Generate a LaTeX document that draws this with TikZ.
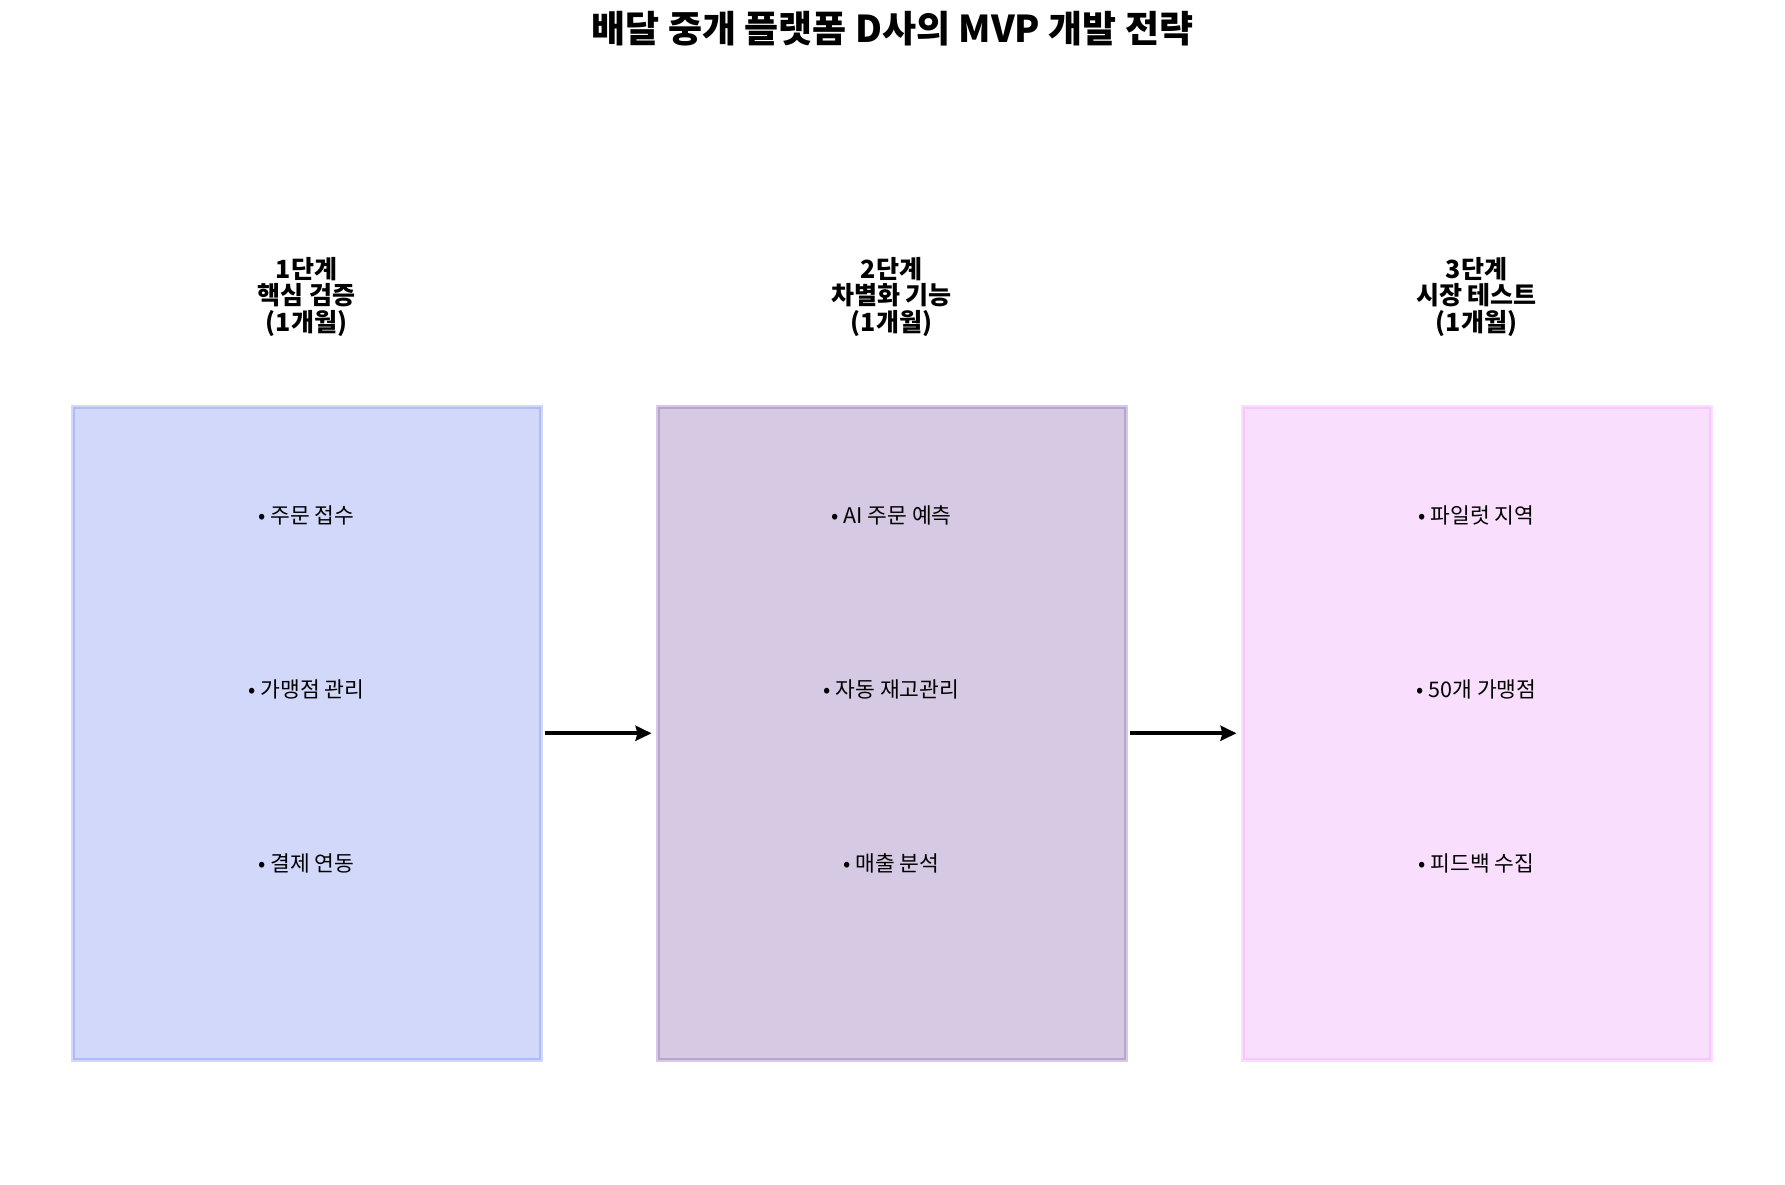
\documentclass[tikz,border=0pt]{standalone}
\usepackage{fontspec}
\setmainfont{Noto Sans CJK KR}
\usetikzlibrary{arrows.meta}
\definecolor{cA}{HTML}{667EEA}
\definecolor{cB}{HTML}{764BA2}
\definecolor{cC}{HTML}{F093FB}
\tikzset{
  stagebox/.style={draw opacity=0.3, fill opacity=0.3, line width=4pt, minimum width=468pt, minimum height=652.5pt, inner sep=0pt},
  stagetitle/.style={align=center, font=\fontsize{25}{26.5}\selectfont\bfseries, inner sep=0pt},
  item/.style={font=\fontsize{21.5}{24}\selectfont, inner sep=0pt},
  flow/.style={line width=3.8pt, -{Stealth[length=16pt,width=15pt,inset=2pt]}},
  maintitle/.style={font=\fontsize{37}{42}\selectfont\bfseries, inner sep=0pt}
}
\begin{document}
\begin{tikzpicture}[x=1pt,y=-1pt]
\useasboundingbox (0,0) rectangle (1785,1184);
\node[maintitle] (title) at (892.5,29) {배달 중개 플랫폼 D사의 MVP 개발 전략};

\node[stagebox, draw=cA, fill=cA] (b1) at (306.5,733.25) {};
\node[stagebox, draw=cB, fill=cB] (b2) at (891.5,733.25) {};
\node[stagebox, draw=cC, fill=cC] (b3) at (1476.5,733.25) {};

\node[stagetitle] (t1) at (306.5,297) {1단계\\핵심 검증\\(1개월)};
\node[stagetitle] (t2) at (891.5,297) {2단계\\차별화 기능\\(1개월)};
\node[stagetitle] (t3) at (1476.5,297) {3단계\\시장 테스트\\(1개월)};

\node[item] (i11) at (306.5,515) {• 주문 접수};
\node[item] (i12) at (306.5,689) {• 가맹점 관리};
\node[item] (i13) at (306.5,863) {• 결제 연동};
\node[item] (i21) at (891.5,515) {• AI 주문 예측};
\node[item] (i22) at (891.5,689) {• 자동 재고관리};
\node[item] (i23) at (891.5,863) {• 매출 분석};
\node[item] (i31) at (1476.5,515) {• 파일럿 지역};
\node[item] (i32) at (1476.5,689) {• 50개 가맹점};
\node[item] (i33) at (1476.5,863) {• 피드백 수집};

\draw[flow] ([xshift=2pt]b1.east) -- ([xshift=-4pt]b2.west);
\draw[flow] ([xshift=2pt]b2.east) -- ([xshift=-4pt]b3.west);
\end{tikzpicture}
\end{document}
